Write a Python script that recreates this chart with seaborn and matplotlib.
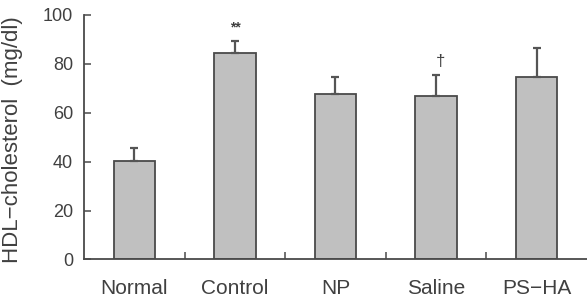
import matplotlib
matplotlib.use("Agg")
import matplotlib.pyplot as plt
import seaborn as sns
import pandas as pd
import numpy as np
from matplotlib.ticker import FixedLocator

groups = ["Normal", "Control", "NP", "Saline", "PS\u2212HA"]
hdl_mean = [40.2, 84.5, 67.7, 67.0, 74.5]
hdl_err = [5.5, 4.7, 6.9, 8.3, 11.9]
marks = ["", "**", "", "\u2020", ""]
yticks = [0, 20, 40, 60, 80, 100]

sns.set_theme(style="white")
plt.rcParams['font.family'] = ['Liberation Sans', 'DejaVu Sans']

txt = '#404040'
edge = '#4a4a4a'

df = pd.DataFrame({"group": groups, "hdl": hdl_mean})

fig = plt.figure(figsize=(5.87, 3.03), dpi=100)
ax = fig.add_axes([0.1431, 0.1436, 0.8569, 0.8069])

sns.barplot(data=df, x="group", y="hdl", order=groups, color="#c0c0c0",
            width=0.41, edgecolor=edge, linewidth=1.3, saturation=1,
            errorbar=None, ax=ax)

xs = np.arange(len(groups))
ax.errorbar(xs, hdl_mean, yerr=[np.zeros(len(groups)), hdl_err], fmt="none",
            ecolor="#555555", elinewidth=1.6, capsize=2.8, capthick=1.6, zorder=1)

for x, m, e, s in zip(xs, hdl_mean, hdl_err, marks):
    if s == "**":
        ax.text(x, m + e + 3.0, s, ha="center", va="bottom", fontsize=10,
                color=txt, fontweight="bold")
    elif s:
        ax.text(x + 0.04, m + e + 2.5, s, ha="center", va="bottom", fontsize=12, color=txt)

ax.set_xlim(-0.5, 4.5)
ax.set_ylim(0, 100)
ax.set_yticks(yticks)
ax.set_yticklabels([str(v) for v in yticks], fontsize=13, color=txt)
ax.set_xticks(xs)
ax.set_xticklabels(groups, fontsize=15, color=txt)
ax.xaxis.set_minor_locator(FixedLocator([0.5, 1.5, 2.5, 3.5]))
ax.tick_params(axis="x", which="major", length=0, pad=14)
ax.tick_params(axis="x", which="minor", direction="in", length=5, width=1.1,
               color=edge, bottom=True)
ax.tick_params(axis="y", which="major", direction="in", length=5, width=1.1,
               color=edge, left=True, pad=8)

ax.set_xlabel("")
ax.set_ylabel("HDL\u2212cholesterol  (mg/dl)", fontsize=16, color=txt)
ax.yaxis.set_label_coords(-0.122, 0.49)

for side in ["top", "right"]:
    ax.spines[side].set_visible(False)
for side in ["left", "bottom"]:
    ax.spines[side].set_color(edge)
    ax.spines[side].set_linewidth(1.3)

fig.savefig("out.png", dpi=100)
